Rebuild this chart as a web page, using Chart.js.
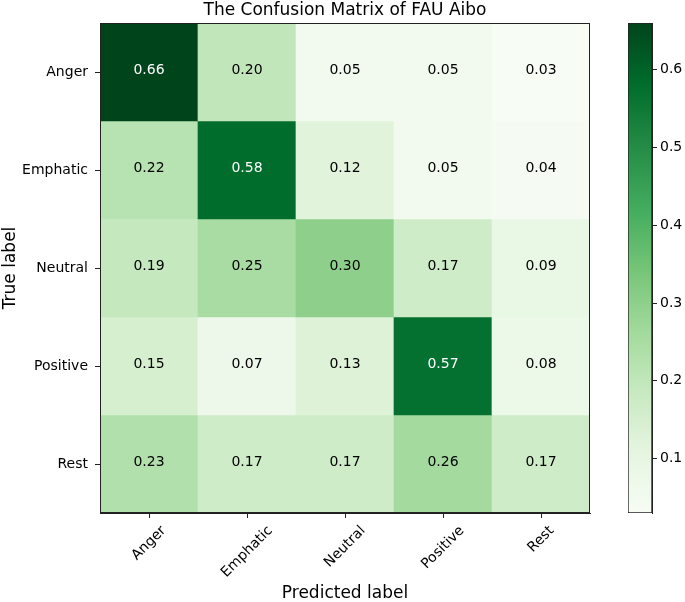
<!DOCTYPE html>
<html>
<head>
<meta charset="utf-8">
<script src="https://cdn.jsdelivr.net/npm/chart.js@4"></script>
<style>
  body { margin: 0; background: #fff; }
  #wrap { position: relative; width: 685px; height: 602px; }
  #matrixChart { position: absolute; left: 0; top: 0; }
  #barChart { position: absolute; left: 600px; top: 0; }
</style>
</head>
<body>
<div id="wrap">
  <canvas id="matrixChart" width="685" height="602"></canvas>
  <canvas id="barChart" width="85" height="602"></canvas>
</div>
<script>
// Etiquetas de filas (verdaderas) y columnas (predichas)
const trueLabels = ['Anger', 'Emphatic', 'Neutral', 'Positive', 'Rest'];
const predLabels = ['Anger', 'Emphatic', 'Neutral', 'Positive', 'Rest'];

// Valores de cada fila de la matriz
const angerRow = [0.66, 0.20, 0.05, 0.05, 0.03];
const emphaticRow = [0.22, 0.58, 0.12, 0.05, 0.04];
const neutralRow = [0.19, 0.25, 0.30, 0.17, 0.09];
const positiveRow = [0.15, 0.07, 0.13, 0.57, 0.08];
const restRow = [0.23, 0.17, 0.17, 0.26, 0.17];

// Marcas de la barra de color
const colorbarTicks = [0.1, 0.2, 0.3, 0.4, 0.5, 0.6];

const chartTitle = 'The Confusion Matrix of FAU Aibo';

const matrix = [angerRow, emphaticRow, neutralRow, positiveRow, restRow];
const allValues = matrix.flat();
const vmin = Math.min(...allValues);
const vmax = Math.max(...allValues);
const thresh = vmax / 2;

Chart.defaults.font.family = "'DejaVu Sans', sans-serif";
Chart.defaults.color = '#000';

// Mapa de color "Greens" (ColorBrewer)
const greensStops = ['#f7fcf5', '#e5f5e0', '#c7e9c0', '#a1d99b', '#74c476', '#41ab5d', '#238b45', '#006d2c', '#00441b'];

function hexToRgb(h) {
    return [parseInt(h.slice(1, 3), 16), parseInt(h.slice(3, 5), 16), parseInt(h.slice(5, 7), 16)];
}

function greens(t) {
    t = Math.max(0, Math.min(1, t));
    const pos = t * (greensStops.length - 1);
    const i = Math.min(Math.floor(pos), greensStops.length - 2);
    const f = pos - i;
    const a = hexToRgb(greensStops[i]);
    const b = hexToRgb(greensStops[i + 1]);
    const c = a.map((v, k) => Math.round(v + (b[k] - v) * f));
    return 'rgb(' + c.join(',') + ')';
}

function norm(v) {
    return (v - vmin) / (vmax - vmin);
}

// Plugin: textos de las celdas, marco, título y etiquetas rotadas del eje x
const matrixExtras = {
    id: 'matrixExtras',
    afterDatasetsDraw(chart) {
        const ctx = chart.ctx;
        const xs = chart.scales.x;
        const ys = chart.scales.y;
        ctx.save();
        ctx.font = "14px 'DejaVu Sans'";
        ctx.textAlign = 'center';
        ctx.textBaseline = 'middle';
        matrix.forEach((row, r) => {
            row.forEach((v, c) => {
                ctx.fillStyle = v > thresh ? '#ffffff' : '#000000';
                ctx.fillText(v.toFixed(2), xs.getPixelForValue(c), ys.getPixelForValue(r) - 2);
            });
        });
        ctx.restore();
    },
    afterDraw(chart) {
        const ctx = chart.ctx;
        const area = chart.chartArea;
        const xs = chart.scales.x;
        ctx.save();
        ctx.strokeStyle = '#222';
        ctx.lineWidth = 1;
        ctx.strokeRect(area.left + 0.5, area.top + 0.5, area.right - area.left - 1, area.bottom - area.top - 1);

        // Título centrado sobre la matriz
        ctx.font = "17px 'DejaVu Sans'";
        ctx.fillStyle = '#000';
        ctx.textAlign = 'center';
        ctx.textBaseline = 'alphabetic';
        ctx.fillText(chartTitle, (area.left + area.right) / 2, 15);

        ctx.font = "14px 'DejaVu Sans'";
        ctx.textBaseline = 'middle';
        predLabels.forEach((lab, i) => {
            const w = ctx.measureText(lab).width;
            const cx = xs.getPixelForValue(i);
            const cy = area.bottom + 12 + (w + 10) * Math.SQRT1_2 / 2;
            ctx.save();
            ctx.translate(cx, cy);
            ctx.rotate(-Math.PI / 4);
            ctx.fillText(lab, 0, 0);
            ctx.restore();
        });
        ctx.restore();
    }
};

function createMatrix() {
    const ctx = document.getElementById('matrixChart').getContext('2d');
    const datasets = matrix.map((row, r) => ({
        label: trueLabels[r],
        data: row.map(() => [r - 0.5, r + 0.5]),
        backgroundColor: row.map(v => greens(norm(v))),
        borderWidth: 0,
        grouped: false,
        barPercentage: 1,
        categoryPercentage: 1
    }));

    new Chart(ctx, {
        type: 'bar',
        data: { labels: predLabels, datasets: datasets },
        options: {
            responsive: false,
            animation: false,
            layout: { padding: { left: 0, right: 95, top: 23, bottom: 0 } },
            plugins: {
                legend: { display: false },
                tooltip: { enabled: false }
            },
            scales: {
                x: {
                    type: 'category',
                    grid: { offset: false, drawOnChartArea: false, tickLength: 5, color: '#222' },
                    border: { color: '#222' },
                    ticks: { display: false },
                    title: {
                        display: true,
                        text: 'Predicted label',
                        color: '#000',
                        font: { size: 17, lineHeight: 1 },
                        padding: { top: 0, bottom: 0 }
                    },
                    afterFit: function (s) { s.height = 89; }
                },
                y: {
                    type: 'linear',
                    reverse: true,
                    min: -0.5,
                    max: 4.5,
                    afterBuildTicks: function (s) {
                        s.ticks = trueLabels.map((_, i) => ({ value: i }));
                    },
                    ticks: {
                        font: { size: 14 },
                        color: '#000',
                        padding: 7,
                        callback: function (value) { return trueLabels[value]; }
                    },
                    grid: { drawOnChartArea: false, tickLength: 5, color: '#222' },
                    border: { color: '#222' },
                    title: {
                        display: true,
                        text: 'True label',
                        color: '#000',
                        font: { size: 17 },
                        padding: { top: 0, bottom: 0 }
                    },
                    afterFit: function (s) { s.width = 100; }
                }
            }
        },
        plugins: [matrixExtras]
    });
}

function createColorbar() {
    const ctx = document.getElementById('barChart').getContext('2d');
    new Chart(ctx, {
        type: 'bar',
        data: {
            labels: [''],
            datasets: [{
                data: [[vmin, vmax]],
                backgroundColor: function (c) {
                    const area = c.chart.chartArea;
                    if (!area) return greensStops[4];
                    const g = c.chart.ctx.createLinearGradient(0, area.bottom, 0, area.top);
                    greensStops.forEach((col, i) => g.addColorStop(i / (greensStops.length - 1), col));
                    return g;
                },
                borderColor: '#222',
                borderWidth: 1,
                borderSkipped: false,
                barPercentage: 1,
                categoryPercentage: 1
            }]
        },
        options: {
            responsive: false,
            animation: false,
            layout: { padding: { left: 28, right: 0, top: 23, bottom: 89 } },
            plugins: { legend: { display: false }, tooltip: { enabled: false } },
            scales: {
                x: { display: false },
                y: {
                    position: 'right',
                    min: vmin,
                    max: vmax,
                    afterBuildTicks: function (s) {
                        s.ticks = colorbarTicks.map(v => ({ value: v }));
                    },
                    ticks: {
                        font: { size: 14 },
                        color: '#000',
                        padding: 3,
                        callback: function (value) { return value.toFixed(1); }
                    },
                    grid: { drawOnChartArea: false, tickLength: 5, color: '#222' },
                    border: { color: '#222' },
                    afterFit: function (s) { s.width = 33; }
                }
            }
        }
    });
}

document.addEventListener('DOMContentLoaded', function () {
    createMatrix();
    createColorbar();
});
</script>
</body>
</html>
